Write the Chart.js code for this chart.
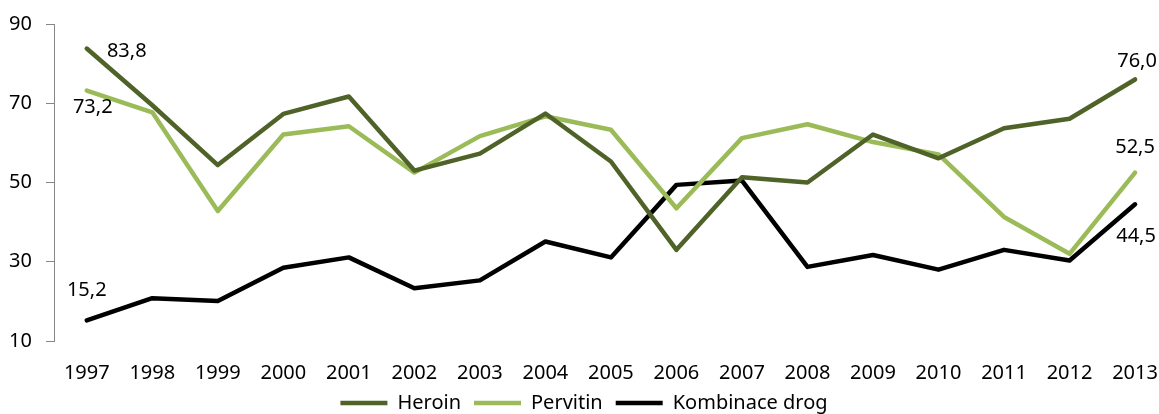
<!DOCTYPE html>
<html>
<head>
<meta charset="utf-8">
<script src="https://cdn.jsdelivr.net/npm/chart.js@4"></script>
<style>
  html, body { margin: 0; padding: 0; background: #fff; overflow: hidden; }
  #wrap { width: 1170px; height: 423px; position: relative; }
</style>
</head>
<body>
<div id="wrap"><canvas id="lineChart"></canvas></div>
<script>
const years = ['1997', '1998', '1999', '2000', '2001', '2002', '2003', '2004', '2005',
  '2006', '2007', '2008', '2009', '2010', '2011', '2012', '2013'];
const heroin = [83.8, 69.5, 54.4, 67.3, 71.7, 53.0, 57.3, 67.4, 55.3, 33.0, 51.3, 50.0, 62.1, 56.1, 63.7, 66.1, 76.0];
const pervitin = [73.2, 67.7, 42.8, 62.1, 64.2, 52.5, 61.7, 66.7, 63.3, 43.5, 61.2, 64.7, 60.2, 57.1, 41.3, 32.0, 52.5];
const kombinace = [15.2, 20.8, 20.1, 28.5, 31.1, 23.3, 25.3, 35.1, 31.1, 49.4, 50.5, 28.7, 31.7, 28.0, 33.0, 30.3, 44.5];
const yTicks = [10, 30, 50, 70, 90];

// values written next to the line: [dataset, index, shift x, shift y] (label centre vs point)
const pointLabels = [
  [0, 0, 40, 3], [0, 16, 2, -18],
  [1, 0, 6, 17], [1, 16, 0, -25],
  [2, 0, 0, -30], [2, 16, 1, 32]
];

const FONT = '"Noto Sans", "Open Sans", sans-serif';

const valueLabels = {
  id: 'valueLabels',
  afterDatasetsDraw(chart) {
    const ctx = chart.ctx;
    ctx.save();
    ctx.font = '20px ' + FONT;
    ctx.fillStyle = '#000';
    ctx.textBaseline = 'middle';
    ctx.textAlign = 'center';
    pointLabels.forEach(([ds, i, dx, dy]) => {
      const pt = chart.getDatasetMeta(ds).data[i];
      const txt = chart.data.datasets[ds].data[i].toFixed(1).replace('.', ',');
      ctx.fillText(txt, pt.x + dx, pt.y + dy);
    });
    ctx.restore();
  }
};

const lineStyle = {
  borderWidth: 4.5,
  pointRadius: 0,
  pointHoverRadius: 0,
  tension: 0,
  borderJoinStyle: 'round',
  borderCapStyle: 'round',
  fill: false
};

new Chart(document.getElementById('lineChart').getContext('2d'), {
  type: 'line',
  data: {
    labels: years,
    datasets: [
      { label: 'Heroin', data: heroin, borderColor: '#4F6228', backgroundColor: '#4F6228', ...lineStyle },
      { label: 'Pervitin', data: pervitin, borderColor: '#9BBB59', backgroundColor: '#9BBB59', ...lineStyle },
      { label: 'Kombinace drog', data: kombinace, borderColor: '#000000', backgroundColor: '#000000', ...lineStyle }
    ]
  },
  options: {
    responsive: true,
    maintainAspectRatio: false,
    animation: false,
    layout: { padding: { top: 19, left: 0, right: 2, bottom: 0 } },
    plugins: {
      tooltip: { enabled: false },
      legend: {
        position: 'bottom',
        labels: {
          usePointStyle: true,
          pointStyle: 'line',
          pointStyleWidth: 47,
          padding: 13,
          color: '#000',
          font: { family: FONT, size: 20 }
        }
      }
    },
    scales: {
      x: {
        offset: true,
        grid: { display: false },
        border: { display: false },
        ticks: { color: '#000', padding: 12, maxRotation: 0, font: { family: FONT, size: 20 } },
        afterFit: (s) => { s.height = 39; }
      },
      y: {
        min: 10,
        max: 90,
        afterBuildTicks: (s) => { s.ticks = yTicks.map(v => ({ value: v })); },
        grid: { drawOnChartArea: false, drawTicks: true, tickLength: 8, color: '#868686' },
        border: { display: true, color: '#868686', width: 1 },
        ticks: { color: '#000', padding: 14, font: { family: FONT, size: 20, lineHeight: 1 } },
        afterFit: (s) => { s.width = 54; }
      }
    }
  },
  plugins: [valueLabels]
});
</script>
</body>
</html>
